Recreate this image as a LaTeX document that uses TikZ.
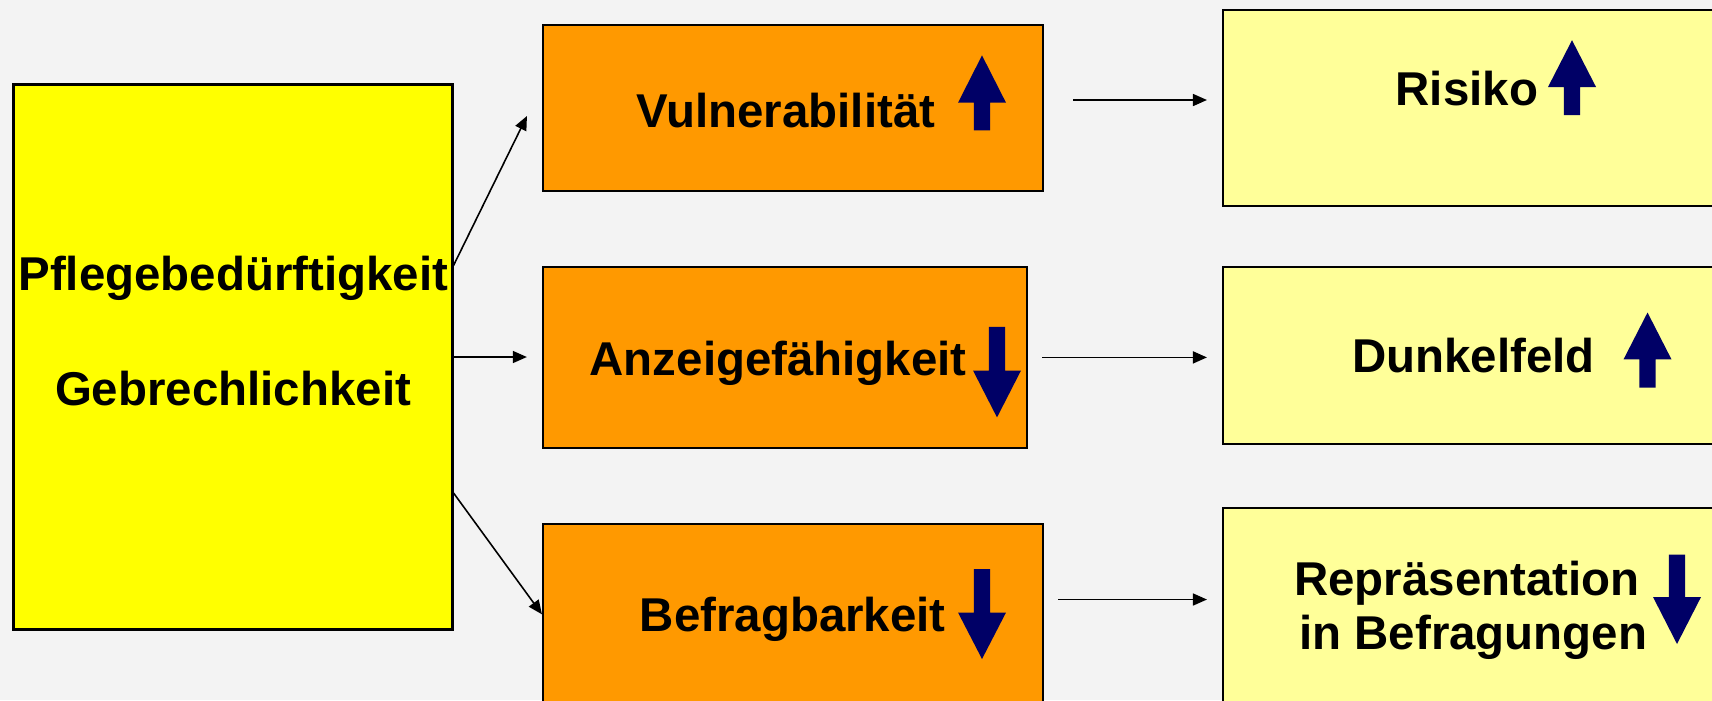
\documentclass[tikz,border=0pt]{standalone}
\usepackage{fontspec}
\setmainfont{Liberation Sans}
\usepackage{xcolor}
\usepackage{tikz}
\usetikzlibrary{arrows.meta}

\definecolor{bggray}{HTML}{F3F3F3}
\definecolor{causeyellow}{HTML}{FFFF00}
\definecolor{midorange}{HTML}{FF9900}
\definecolor{paleyellow}{HTML}{FFFF99}
\definecolor{trendnavy}{HTML}{000066}

% block arrow: x, y of tip, y of head base, y of shaft end
\newcommand{\trendarrow}[4]{%
  \fill[trendnavy] (#1-0.24,#3) -- (#1,#2) -- (#1+0.24,#3) -- (#1+0.082,#3)
    -- (#1+0.082,#4) -- (#1-0.082,#4) -- (#1-0.082,#3) -- cycle;}

\begin{document}
\begin{tikzpicture}[
    box/.style={draw=black, line width=0.6pt, inner sep=0pt},
    lbl/.style={anchor=base, inner sep=0pt, font=\fontsize{13.5}{16}\selectfont\bfseries},
    conn/.style={-{Triangle[length=0.14cm,width=0.12cm]}, line width=0.45pt}
  ]
        % Background
        \fill[bggray] (0,0) rectangle (17.12,7);
        \useasboundingbox (0,0) rectangle (17.12,7);

        % Cause
        \node[box, fill=causeyellow, minimum width=4.39cm, minimum height=5.45cm] (pflege) at (2.33,3.43) {};
        \node[lbl] (pflegeA) at (2.334,4.10) {Pflegebedürftigkeit};
        \node[lbl] (pflegeB) at (2.33,2.946) {Gebrechlichkeit};

        % Middle column
        \node[box, fill=midorange, minimum width=5.0cm, minimum height=1.66cm] (vuln) at (7.93,5.92) {};
        \node[box, fill=midorange, minimum width=4.844cm, minimum height=1.808cm] (anz) at (7.851,3.426) {};
        \node[box, fill=midorange, minimum width=5.0cm, minimum height=1.813cm] (befr) at (7.93,0.857) {};
        \node[lbl] (vulntxt) at (7.859,5.73) {Vulnerabilität};
        \node[lbl] (anztxt) at (7.782,3.25) {Anzeigefähigkeit};
        \node[lbl] (befrtxt) at (7.928,0.683) {Befragbarkeit};

        % Right column
        \node[box, fill=paleyellow, minimum width=5.02cm, minimum height=1.962cm] (risk) at (14.74,5.921) {};
        \node[box, fill=paleyellow, minimum width=5.02cm, minimum height=1.77cm] (dunkel) at (14.74,3.445) {};
        \node[box, fill=paleyellow, minimum width=5.02cm, minimum height=1.97cm] (repr) at (14.74,0.935) {};
        \node[lbl] (risktxt) at (14.668,5.95) {Risiko};
        \node[lbl] (dunkeltxt) at (14.734,3.272) {Dunkelfeld};
        \node[lbl] (reprA) at (14.669,1.05) {Repräsentation};
        \node[lbl] (reprB) at (14.733,0.504) {in Befragungen};

        % Trend arrows
        \trendarrow{9.82}{6.446}{5.973}{5.696}
        \trendarrow{9.97}{2.826}{3.295}{3.732}
        \trendarrow{9.82}{0.41}{0.875}{1.31}
        \trendarrow{15.72}{6.598}{6.13}{5.848}
        \trendarrow{16.475}{3.875}{3.406}{3.125}
        \trendarrow{16.77}{0.56}{1.03}{1.455}

        % Connectors
        \draw[conn] ([yshift=0.916cm]pflege.east) -- ([xshift=-0.15cm,yshift=-0.08cm]vuln.west);
        \draw[conn, shorten >=0.15cm] (pflege.east) -- (pflege.east -| anz.west);
        \draw[conn] ([yshift=-1.36cm]pflege.east) -- (befr.west);
        \draw[conn, shorten <=0.29cm, shorten >=0.15cm] ([yshift=0.08cm]vuln.east) -- ([yshift=0.08cm]vuln.east -| risk.west);
        \draw[conn, shorten <=0.14cm, shorten >=0.15cm] (anz.east) -- (anz.east -| dunkel.west);
        \draw[conn, shorten <=0.14cm, shorten >=0.15cm] ([yshift=0.148cm]befr.east) -- ([yshift=0.148cm]befr.east -| repr.west);
\end{tikzpicture}
\end{document}
